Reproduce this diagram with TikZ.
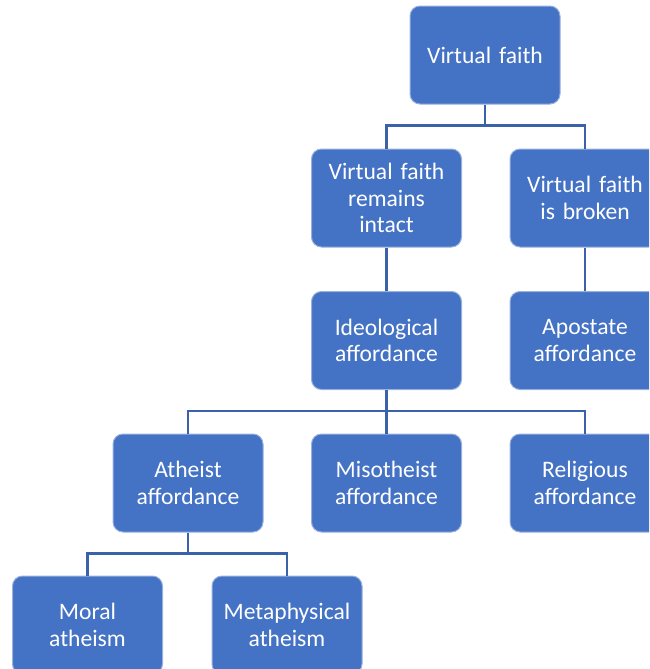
\documentclass[tikz,border=0pt]{standalone}
\usepackage{fontspec}
\setmainfont{Carlito}
\usepackage{tikz}
\definecolor{boxblue}{HTML}{4472C4}
\definecolor{linkblue}{HTML}{3A62AA}
\tikzset{
  card/.style={rectangle, rounded corners=5pt, fill=boxblue, draw=white!45!boxblue, line width=0.5pt, text=white, minimum width=75pt, minimum height=49pt, text width=72pt, align=center, inner sep=0pt, font=\fontsize{11.8}{13.2}\selectfont},
  link/.style={draw=linkblue, line width=1.3pt}
}
\newcommand{\branch}[2]{ \draw[link] (#1.south) -- ++(0,21) -| (#2.north);}

\begin{document}
\begin{tikzpicture}[x=0.5pt, y=-0.5pt]
        \useasboundingbox (0,0) rectangle (649,669);
        \clip (0,0) rectangle (649,669);
        % row1
        \node[card] (root) at (485,55) {Virtual faith};
        % row2
        \node[card] (intact) at (386.5,198) {Virtual faith\\remains\\intact};
        \node[card] (broken) at (585,198) {Virtual faith\\is broken};
        % row3
        \node[card] (ideo) at (386.5,340.5) {Ideological\\affordance};
        \node[card] (apos) at (585,340.5) {Apostate\\affordance};
        % row4
        \node[card] (athe) at (188,483) {Atheist\\affordance};
        \node[card] (miso) at (386.5,483) {Misotheist\\affordance};
        \node[card] (reli) at (585,483) {Religious\\affordance};
        % row5
        \node[card] (moral) at (87.5,625) {Moral\\atheism};
        \node[card] (meta) at (287,625) {Metaphysical\\atheism};
        % links
        \branch{root}{intact}
        \branch{root}{broken}
        \branch{intact}{ideo}
        \branch{broken}{apos}
        \branch{ideo}{athe}
        \branch{ideo}{miso}
        \branch{ideo}{reli}
        \branch{athe}{moral}
        \branch{athe}{meta}
\end{tikzpicture}
\end{document}
